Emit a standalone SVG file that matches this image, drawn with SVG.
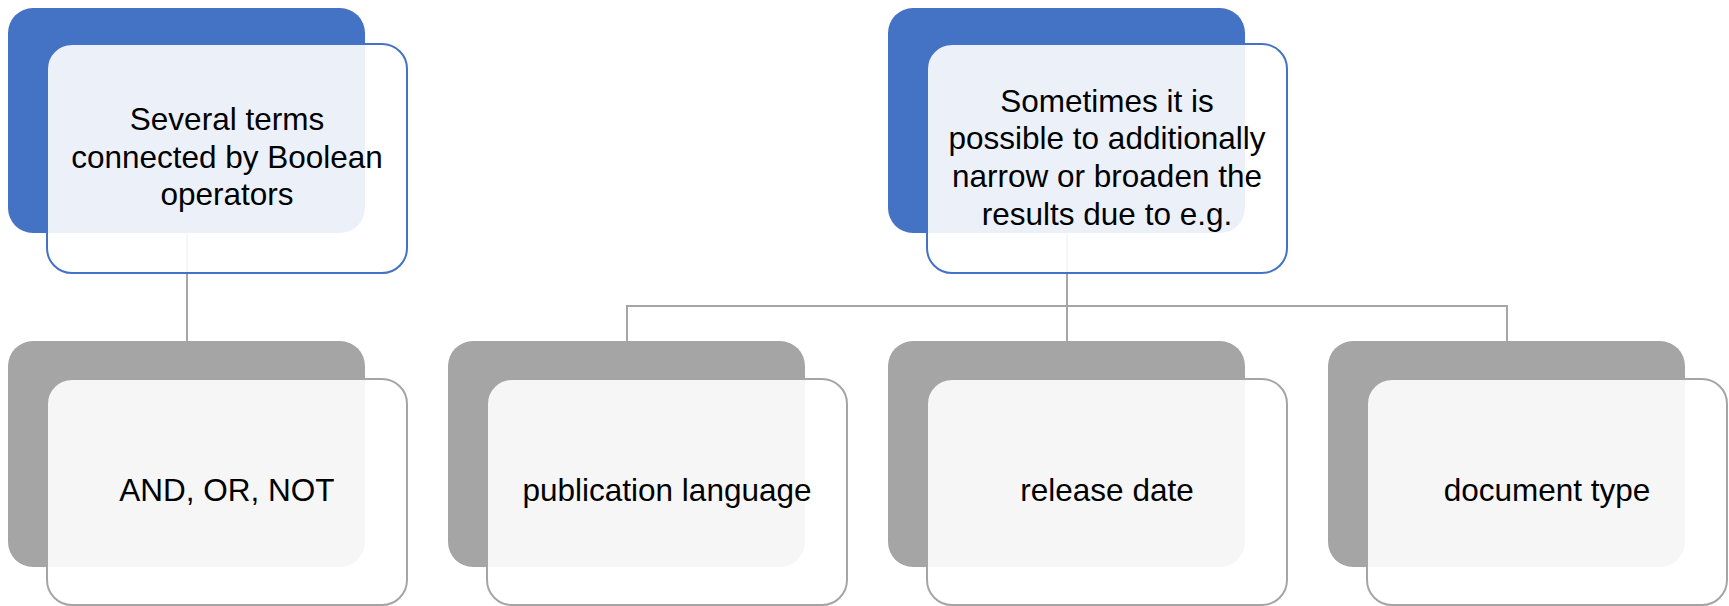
<svg xmlns="http://www.w3.org/2000/svg" width="1729" height="606" viewBox="0 0 1729 606">
<style>
.bb{fill:#4472C4}
.bf{fill:#FFFFFF;fill-opacity:0.9;stroke:#4472C4;stroke-width:2}
.gb{fill:#A5A5A5}
.gf{fill:#FFFFFF;fill-opacity:0.9;stroke:#A5A5A5;stroke-width:2}
.c{fill:none;stroke:#A5A5A5;stroke-width:2}
text{font-family:"Liberation Sans",Arial,sans-serif;font-size:31.5px;fill:#000;text-anchor:middle}
</style>
<rect width="1729" height="606" fill="#FFFFFF"/>
<g id="connectors">
<path class="c" d="M187 233 V341"/>
<path class="c" d="M1067 233 V341 M627 341 V306 H1507 V341"/>
</g>
<g id="n1">
<rect class="bb" x="8" y="8" width="357" height="225" rx="25"/>
<rect class="bf" x="47" y="44" width="360" height="229" rx="25"/>
<text x="227" y="130">Several terms</text>
<text x="227" y="168">connected by Boolean</text>
<text x="227" y="205">operators</text>
</g>
<g id="n2">
<rect class="bb" x="888" y="8" width="357" height="225" rx="25"/>
<rect class="bf" x="927" y="44" width="360" height="229" rx="25"/>
<text x="1107" y="112">Sometimes it is</text>
<text x="1107" y="149">possible to additionally</text>
<text x="1107" y="187">narrow or broaden the</text>
<text x="1107" y="225">results due to e.g.</text>
</g>
<g id="n3">
<rect class="gb" x="8" y="341" width="357" height="226" rx="25"/>
<rect class="gf" x="47" y="379" width="360" height="226" rx="25"/>
<text x="227" y="501">AND, OR, NOT</text>
</g>
<g id="n4">
<rect class="gb" x="448" y="341" width="357" height="226" rx="25"/>
<rect class="gf" x="487" y="379" width="360" height="226" rx="25"/>
<text x="667" y="501">publication language</text>
</g>
<g id="n5">
<rect class="gb" x="888" y="341" width="357" height="226" rx="25"/>
<rect class="gf" x="927" y="379" width="360" height="226" rx="25"/>
<text x="1107" y="501">release date</text>
</g>
<g id="n6">
<rect class="gb" x="1328" y="341" width="357" height="226" rx="25"/>
<rect class="gf" x="1367" y="379" width="360" height="226" rx="25"/>
<text x="1547" y="501">document type</text>
</g>
</svg>
